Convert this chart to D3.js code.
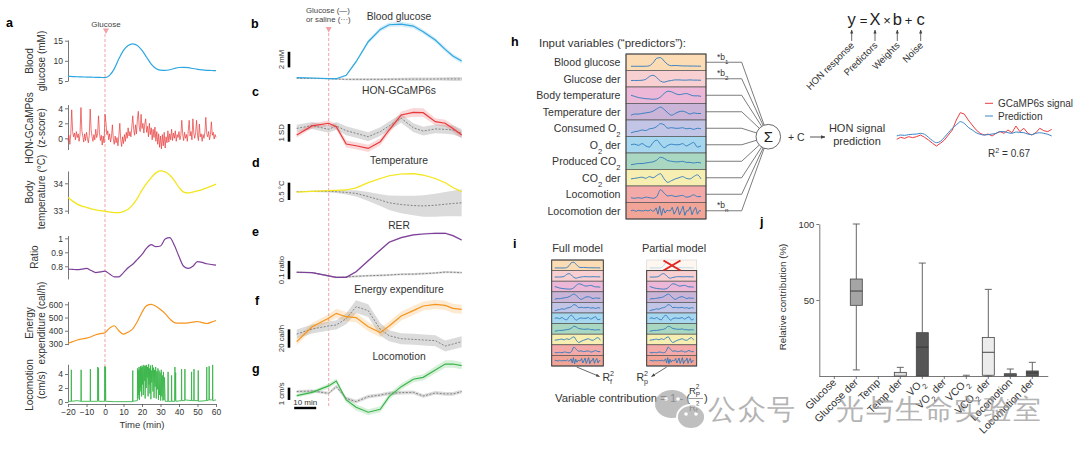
<!DOCTYPE html>
<html><head><meta charset="utf-8">
<script src="https://cdn.jsdelivr.net/npm/d3@7"></script>
<style>
body{margin:0;background:#fff}
svg{display:block}
text{font-family:"Liberation Sans",Arial,Helvetica,sans-serif}
</style></head>
<body><svg id="c" width="1080" height="451"></svg>
<script>
// ================= DATA =================
// Panel a (time course, min)
const tickTimesA = [-20,-10,0,10,20,30,40,50,60];
const tA = [-20,-17.5,-15,-12.5,-10,-7.5,-5,-2.5,0,2.5,5,7.5,10,12.5,15,17.5,20,22.5,25,27.5,30,32.5,35,37.5,40,42.5,45,47.5,50,52.5,55,57.5,60];
const glucoseA = [6.15,6.1,6.05,6.0,5.98,5.95,5.92,5.88,5.85,6.4,8.0,10.5,12.6,13.8,14.2,13.8,12.6,10.9,9.2,8.1,7.7,7.65,7.8,8.1,8.35,8.4,8.3,8.1,7.9,7.75,7.65,7.6,7.55];
const tempA = [33.48,33.35,33.24,33.17,33.12,33.07,33.03,33.0,32.98,32.95,32.93,32.93,32.97,33.05,33.22,33.45,33.75,34.0,34.2,34.38,34.45,34.42,34.3,34.1,33.85,33.68,33.65,33.68,33.72,33.77,33.83,33.9,33.97];
const ratioA = [0.78,0.778,0.776,0.78,0.785,0.77,0.755,0.76,0.765,0.745,0.725,0.725,0.755,0.79,0.815,0.85,0.885,0.93,0.955,0.94,0.945,0.995,1.005,0.95,0.87,0.8,0.785,0.8,0.833,0.828,0.818,0.813,0.808];
const energyA = [305,318,330,338,345,355,370,378,385,420,438,400,375,390,415,470,540,590,600,585,560,530,490,462,458,458,460,465,470,462,455,465,478];
// HON-GCaMP6s z-score, sampled every 0.5 min from -20 to 60
const gcampA = [-0.3,0.4,-0.8,0.6,3.8,0.9,0.2,0.7,-0.2,0.9,
0.1,0.6,-0.4,0.5,4.1,1.0,0.3,-0.5,0.6,-0.3,
0.8,0.0,-0.6,0.4,3.9,1.1,0.2,-0.4,0.5,-0.2,
1.2,0.1,0.6,3.0,0.8,-0.3,0.4,-0.9,0.3,-0.6,
3.2,2.1,0.5,1.0,-0.2,0.6,-0.5,0.2,1.8,-0.1,
-0.8,0.3,-0.6,0.1,-1.0,0.4,2.0,-0.2,-1.1,0.2,
-0.7,0.5,-0.4,0.8,0.0,1.4,0.3,0.9,0.2,1.5,
3.0,1.2,0.4,1.8,0.6,2.5,3.6,1.5,0.9,3.2,
1.3,2.0,0.7,1.9,2.6,0.8,1.6,0.2,2.0,0.5,
1.4,-0.2,1.2,0.1,1.5,-0.4,0.9,-0.8,0.6,-1.2,
0.3,-1.4,0.5,-1.0,0.8,-1.3,0.2,-0.6,1.0,-0.5,
0.6,-0.2,1.2,-0.3,0.7,0.0,1.0,-0.4,0.5,0.1,
0.9,-0.2,0.4,2.4,0.6,-0.3,0.8,0.0,0.5,-0.4,
1.0,2.4,0.3,0.9,-0.2,2.6,0.7,0.0,0.8,2.4,
0.4,-0.3,1.9,0.2,0.6,-0.4,0.5,0.0,0.8,2.8,
0.6,0.2,0.9,-0.2,0.5,2.2,0.4,0.8,-0.1,0.5,
0.1];
// Locomotion (cm/s) trace vertices
const locoT = [-20,-18.3,-18.2,-18.1, -15,-13,-12.9,-12.8, -8,-7.9,-7.8, -4,-3.9,-3.7,-3.5,-3.4, -0.2,-0.1,0.1,0.3,0.4, 5,14.9,15,15.1,
17.5,17.6,17.8,18,18.2,18.4,18.6,18.8,19,19.2,19.4,19.6,19.8,
20,20.3,20.5,20.7,21,21.2,21.5,21.7,22,22.3,22.5,22.8,
23,23.3,23.6,23.8,24,24.3,24.6,24.8,
25,25.3,25.6,25.9,26.2,26.5,26.8,27.1,27.4,27.7,
28,28.3,28.6,28.9,29.2,29.5,29.8,
30.1,30.4,30.7,31,31.3,31.6,31.9,32.2,32.5,
34,34.1,34.2,35.9,36,36.1,37.7,37.8,37.9,38.2,38.3,
41.3,41.4,41.5,43.1,43.2,43.3, 46.7,46.8,46.9,48,48.1,48.2,
50.3,50.4,50.5,54.9,55,55.1, 56.2,56.3,56.4,58.1,58.2,58.3,60];
const locoV = [0.1,0.1,4.6,0.1, 0.2,0.1,4.6,0.1, 0.1,4.7,0.1, 0.1,5.0,0.2,4.8,0.1, 0.1,5.1,0.3,5.0,0.1, 0.05,0.05,4.5,0.1,
0.2,4.8,0.5,4.5,1.0,5.0,0.3,4.6,2.0,5.1,1.5,4.9,0.8,
5.2,2.5,5.0,1.0,5.3,3.0,5.1,0.5,5.2,2.0,5.3,3.5,
5.0,0.8,5.4,2.5,4.8,1.2,5.2,0.4,
4.5,2.8,5.3,1.5,4.9,0.6,4.6,2.2,5.0,0.5,
4.4,1.8,4.8,0.3,4.5,1.0,4.2,
0.2,4.6,0.8,3.8,0.2,4.3,0.3,3.5,0.1,
0.1,4.3,0.1,0.1,3.8,0.1,0.1,5.0,0.2,4.2,0.1,
0.2,4.7,0.2,0.2,4.7,0.3, 0.2,4.3,0.2,0.2,4.7,0.2,
0.2,4.5,0.1,0.2,5.0,0.2, 0.3,5.1,0.3,0.3,5.3,0.2,0.3];

// Panels b-g (glucose vs saline, mean +/- s.e.m., min)
const tB = [-15,-8,-0.5,3,7.5,12,17.5,23,27,32.5,38,42.5,48,52.5,56,60];
const glcB   = [0.13,0.09,0,0,0.43,2.18,4.74,6.32,6.92,7.0,6.75,6.02,4.96,3.76,2.91,2.26];
const glcBse = [0.05,0.05,0.05,0.08,0.12,0.2,0.25,0.3,0.3,0.3,0.3,0.3,0.3,0.3,0.3,0.3];
const salB   = [0.05,0.03,0,-0.05,-0.08,-0.08,-0.08,-0.08,-0.07,-0.06,-0.05,-0.05,-0.04,-0.03,-0.03,-0.03];
const salBse = [0.05,0.05,0.08,0.1,0.12,0.15,0.15,0.15,0.15,0.18,0.2,0.2,0.2,0.22,0.25,0.25];
const hc     = [-0.28,0.23,0.38,0.19,-0.79,-0.89,-1.04,-0.66,0,0.85,1.0,0.98,0.47,0.38,0.09,-0.28];
const hcse   = [0.15,0.15,0.15,0.15,0.2,0.2,0.2,0.2,0.2,0.2,0.25,0.25,0.2,0.2,0.2,0.2];
const hcSal  = [0.09,0.25,0.04,0.23,-0.04,-0.19,-0.38,-0.09,0.23,0.66,0.13,-0.06,0.06,0.04,0,-0.19];
const hcSalse= [0.2,0.2,0.2,0.22,0.25,0.25,0.25,0.25,0.25,0.25,0.25,0.25,0.25,0.25,0.25,0.25];
const tmp    = [-0.01,0.01,0.03,0.04,0.05,0.11,0.26,0.38,0.46,0.51,0.52,0.48,0.38,0.26,0.12,0];
const tmpse  = [0.01,0.01,0.01,0.01,0.015,0.015,0.02,0.02,0.02,0.02,0.02,0.02,0.02,0.02,0.02,0.02];
const tmpSal = [0,0.01,0.01,0,-0.02,-0.05,-0.14,-0.24,-0.32,-0.37,-0.4,-0.41,-0.39,-0.36,-0.34,-0.32];
const tmpSalse=[0.01,0.02,0.03,0.04,0.06,0.09,0.13,0.17,0.21,0.25,0.28,0.31,0.33,0.35,0.37,0.39];
const rer    = [0.015,0.013,-0.005,-0.013,-0.013,0.018,0.078,0.137,0.179,0.204,0.219,0.224,0.228,0.228,0.215,0.191];
const rerse  = [0.004,0.004,0.004,0.004,0.004,0.005,0.005,0.005,0.005,0.005,0.005,0.005,0.005,0.005,0.005,0.005];
const rerSal = [0.015,0.013,-0.005,-0.013,-0.011,-0.007,-0.004,-0.002,0,0.004,0.005,0.007,0.011,0.016,0.015,0.013];
const rerSalse=[0.004,0.004,0.005,0.005,0.005,0.006,0.006,0.006,0.006,0.006,0.006,0.006,0.006,0.006,0.006,0.006];
const ee     = [-12.7,3.6,12.7,18.2,14.5,13.5,3.6,-2.9,4.4,15.3,21.1,26.2,28,26.9,23.6,22.5];
const eese   = [4,4,4.5,5,5,5,5,5,5,5,5,5,5,5,5,5];
const eeSal  = [-4.4,1.1,4.4,5.5,12.4,25.5,21.1,0.7,-6.2,-9.5,-10.2,-10.9,-11.6,-17.5,-15.3,-12.7];
const eeSalse= [5,5,5,5,6,7,7,7,6,6,6,6,6,6,6,6];
const loc    = [-0.19,0.08,0.6,1.0,-0.54,-1.14,-1.54,-1.3,-0.27,0.54,1.14,1.3,1.9,2.38,2.38,2.25];
const locse  = [0.15,0.15,0.2,0.2,0.2,0.25,0.25,0.25,0.25,0.25,0.25,0.25,0.3,0.3,0.3,0.3];
const locSal = [0.14,0.19,0,0.54,-0.41,-0.68,-0.27,-0.14,0,0.05,0.08,-0.22,0.03,-0.05,-0.05,0.14];
const locSalse=[0.12,0.12,0.12,0.15,0.15,0.15,0.15,0.15,0.15,0.15,0.15,0.15,0.15,0.15,0.15,0.15];

// Panel h predictors
const rowLabels = ["Blood glucose","Glucose der","Body temperature","Temperature der","Consumed O_2","O_2 der","Produced CO_2","CO_2 der","Locomotion","Locomotion der"];
const miniTraces = [
 [0.15,0.15,0.15,0.15,0.15,0.2,0.45,0.85,0.9,0.6,0.3,0.2,0.22,0.2,0.18,0.18,0.17,0.17,0.16,0.16],
 [0.35,0.35,0.35,0.37,0.45,0.7,0.8,0.6,0.3,0.2,0.3,0.35,0.4,0.4,0.38,0.38,0.4,0.38,0.38,0.37],
 [0.5,0.4,0.3,0.25,0.2,0.18,0.15,0.18,0.35,0.65,0.85,0.8,0.65,0.55,0.6,0.65,0.55,0.45,0.45,0.4],
 [0.2,0.3,0.3,0.35,0.4,0.45,0.55,0.75,0.9,0.7,0.4,0.2,0.35,0.5,0.55,0.45,0.3,0.4,0.35,0.35],
 [0.1,0.2,0.25,0.35,0.3,0.45,0.5,0.65,0.9,0.8,0.5,0.55,0.5,0.5,0.55,0.45,0.5,0.4,0.5,0.45],
 [0.5,0.55,0.45,0.6,0.4,0.3,0.7,0.9,0.55,0.25,0.45,0.55,0.5,0.5,0.6,0.4,0.55,0.7,0.3,0.4],
 [0.2,0.25,0.3,0.3,0.35,0.4,0.45,0.6,0.85,0.75,0.55,0.5,0.45,0.45,0.5,0.4,0.4,0.35,0.4,0.35],
 [0.4,0.45,0.5,0.55,0.45,0.6,0.5,0.7,0.85,0.4,0.1,0.25,0.4,0.5,0.6,0.45,0.4,0.6,0.75,0.4],
 [0.2,0.15,0.2,0.15,0.25,0.2,0.15,0.3,0.9,0.6,0.35,0.4,0.3,0.35,0.4,0.25,0.3,0.45,0.3,0.3],
 [0.5,0.55,0.5,0.45,0.55,0.5,0.5,0.48,0.55,0.5,0.5,0.6,0.45,0.5,0.75,0.2,0.9,0.1,0.7,0.3,0.55,0.5,0.5,0.8,0.2,0.5,0.85,0.15,0.5,0.9,0.1,0.5,0.5,0.85,0.15,0.55,0.8,0.2,0.5,0.5]
];
const weightLabels = ["*b_1","*b_2","*b_n"];
const eqParts = ["y","=","X","×","b","+","c"];
const eqTerms = ["HON response","Predictors","Weights","Noise"];
// HON signal prediction
const gcampSig = [-0.36,-0.19,-0.28,-0.14,-0.22,-0.14,0,-0.19,-0.42,-0.69,-0.92,-0.69,-0.42,0,0.42,1.25,1.86,1.75,1.25,0.83,0.42,0.14,0,0.08,-0.08,0.14,0.28,0.14,0.42,0.19,0.75,0.28,0.56,0.14,0,0.19,0.56,0.36,0.28,0.47];
const predSig  = [-0.08,0,-0.03,0.03,0.06,0.08,0.14,0.06,-0.19,-0.47,-0.64,-0.53,-0.19,0.19,0.56,0.83,1.11,0.97,0.64,0.42,0.19,0.06,0,0.03,0.08,0.14,0.28,0.28,0.19,0.14,0.25,0.22,0.19,0.08,0.03,0.14,0.19,0.14,0.06,-0.08];
const r2Text = "R^2 = 0.67";

// Panel j: relative contribution (%)
const jCats = ["Glucose","Glucose der","Temp","Temp der","VO_2","VO_2 der","VCO_2","VCO_2 der","Locomotion","Locomotion der"];
const jMin = [0,4,0,0,0,0,0,0,0,0];
const jQ1  = [0,46.5,0,0,0,0,0,0.5,0,0];
const jMed = [0,55.9,0,0,19,0,0,15.6,0,2];
const jQ3  = [0,63.8,0,2.4,28.5,0,0,25.4,1.5,3.3];
const jMax = [0,100,0,5.7,74.3,0,0.5,57,4.6,9];
const jTicks = [50,100];

// ================= DRAW =================
const svg = d3.select('#c');
const FONT = '"Liberation Sans", Arial, Helvetica, sans-serif';
const TXT = '#333';
const defs = svg.append('defs');
defs.append('marker').attr('id','ah').attr('viewBox','0 0 10 10').attr('refX',9).attr('refY',5)
  .attr('markerWidth',5).attr('markerHeight',5).attr('orient','auto-start-reverse')
  .append('path').attr('d','M0,1L10,5L0,9z').attr('fill','#444');

function rich(sel, str, fs){
  const parts = str.split(/([_^][A-Za-z0-9])/);
  parts.forEach(p=>{
    if(!p) return;
    if(p[0]==='_') sel.append('tspan').attr('baseline-shift','sub').attr('font-size',fs*0.72).text(p.slice(1));
    else if(p[0]==='^') sel.append('tspan').attr('baseline-shift','super').attr('font-size',fs*0.72).text(p.slice(1));
    else sel.append('tspan').text(p);
  });
  return sel;
}
function label(x,y,t,opt={}){
  const s = svg.append('text').attr('x',x).attr('y',y).attr('font-size',opt.fs||10)
    .attr('fill',opt.fill||TXT).attr('text-anchor',opt.anchor||'start');
  if(opt.bold) s.attr('font-weight','bold');
  rich(s,t,opt.fs||10);
  return s;
}
function vlabel(x,y,t,fs){
  svg.append('text').attr('transform',`translate(${x},${y}) rotate(-90)`).attr('dy','0.35em')
    .attr('text-anchor','middle').attr('font-size',fs).attr('fill',TXT).text(t);
}
function tri(x,y){
  svg.append('path').attr('d',`M${x-3},${y}L${x+3},${y}L${x},${y+5.5}Z`).attr('fill','#f2a0a4');
}

// ---------- Panel a ----------
label(6,27,'a',{fs:12.5,bold:true,fill:'#000'});
const xa = d3.scaleLinear().domain([-20,60]).range([68,216]);
label(xa(0)+1,26.5,'Glucose',{fs:8,anchor:'middle',fill:'#444'});
tri(xa(0)+1,28.5);
svg.append('line').attr('x1',xa(0)).attr('x2',xa(0)).attr('y1',34).attr('y2',404)
  .attr('stroke','#f08a8a').attr('stroke-width',0.8).attr('stroke-dasharray','3,2');

function aAxis(domain, range, extent, ticks, fmt){
  const y = d3.scaleLinear().domain(domain).range(range);
  const ya = y.copy().domain(extent).range(extent.map(y));
  const g = svg.append('g').attr('transform','translate(68,0)')
    .call(d3.axisLeft(ya).tickValues(ticks).tickSize(3).tickSizeOuter(0).tickPadding(2).tickFormat(fmt||d3.format('~g')));
  g.attr('font-family',FONT).attr('font-size',8.5);
  g.selectAll('text').attr('fill',TXT);
  g.selectAll('path,line').attr('stroke','#555').attr('stroke-width',0.8);
  return y;
}
const yGlu = aAxis([5,15],[81,40.7],[5,15.2],[5,10,15]);
const yHon = aAxis([0,4],[138.3,108.3],[-1.5,4.5],[0,2,4]);
const yTmp = aAxis([33,34],[210.7,183.3],[32.9,34.45],[33,34]);
const yRat = aAxis([0.8,1],[266.3,238.3],[0.71,1.02],[0.8,0.9,1]);
const yEne = aAxis([300,600],[344,304.3],[295,622],[300,400,500,600]);
const yLoc = aAxis([0,4],[402,374],[0,5.4],[0,2,4]);
// x axis
const gx = svg.append('g').attr('transform','translate(0,404)')
  .call(d3.axisBottom(xa).tickValues(tickTimesA).tickSize(3).tickSizeOuter(0).tickPadding(2).tickFormat(d=>d<0?'−'+(-d):d));
gx.attr('font-family',FONT).attr('font-size',8.5);
gx.selectAll('text').attr('fill',TXT);
gx.selectAll('path,line').attr('stroke','#555').attr('stroke-width',0.8);
label(142,428,'Time (min)',{fs:9.5,anchor:'middle'});

const smooth = (ys,ysc)=>d3.line().x((d,i)=>xa(tA[i])).y(d=>ysc(d)).curve(d3.curveMonotoneX)(ys);
svg.append('path').attr('d',smooth(glucoseA,yGlu)).attr('fill','none').attr('stroke','#2ea7e0').attr('stroke-width',1.2);
svg.append('path').attr('d',d3.line().x((d,i)=>xa(-20+0.5*i)).y(d=>yHon(d))(gcampA)).attr('fill','none').attr('stroke','#e8393a').attr('stroke-width',0.7);
svg.append('path').attr('d',smooth(tempA,yTmp)).attr('fill','none').attr('stroke','#f3e61c').attr('stroke-width',1.3);
svg.append('path').attr('d',smooth(ratioA,yRat)).attr('fill','none').attr('stroke','#7d3f98').attr('stroke-width',1.2);
svg.append('path').attr('d',smooth(energyA,yEne)).attr('fill','none').attr('stroke','#f7941d').attr('stroke-width',1.2);
svg.append('path').attr('d',d3.line().x((d,i)=>xa(locoT[i])).y(d=>yLoc(d))(locoV)).attr('fill','none').attr('stroke','#3ab54a').attr('stroke-width',0.9);

const aLabels = [
  [['Blood','glucose (mM)'],61],
  [['HON-GCaMP6s','(z-score)'],128],
  [['Body','temperature (°C)'],192],
  [['Ratio'],257],
  [['Energy','expenditure (cal/h)'],323],
  [['Locomotion','(cm/s)'],385]
];
aLabels.forEach(([lines,cy])=>{
  if(lines.length===1) vlabel(34,cy,lines[0],10);
  else { vlabel(29.5,cy,lines[0],10); vlabel(41.5,cy,lines[1],10); }
});

// ---------- Panels b-g ----------
const xb = d3.scaleLinear().domain([-15,60]).range([296.7,461.7]);
label(251,28,'b',{fs:12.5,bold:true,fill:'#000'});
label(306,12.5,'Glucose (—)',{fs:7.8,fill:'#444'});
label(306,21.5,'or saline (···)',{fs:7.8,fill:'#444'});
tri(xb(0)-1,27);
svg.append('line').attr('x1',xb(0)-1).attr('x2',xb(0)-1).attr('y1',33).attr('y2',406)
  .attr('stroke','#f08a8a').attr('stroke-width',0.8).attr('stroke-dasharray','3,2');

const bgPanels = [
  {letter:'b',ly:28,title:'Blood glucose',ty:20,y0:78.7,ppu:7.8,main:glcB,mse:glcBse,sal:salB,sse:salBse,color:'#2ea7e0',bar:2,barFrom:1.45,barLab:'2 mM'},
  {letter:'c',ly:96,title:'HON-GCaMP6s',ty:93.5,y0:130,ppu:17.7,main:hc,mse:hcse,sal:hcSal,sse:hcSalse,color:'#e8393a',bar:1,barFrom:-0.66,barLab:'1 SD'},
  {letter:'d',ly:167,title:'Temperature',ty:163.5,y0:191.7,ppu:34.7,main:tmp,mse:tmpse,sal:tmpSal,sse:tmpSalse,color:'#f3e61c',bar:0.5,barFrom:-0.24,barLab:'0.5 °C'},
  {letter:'e',ly:236,title:'RER',ty:228.5,y0:275,ppu:183,main:rer,mse:rerse,sal:rerSal,sse:rerSalse,color:'#7d3f98',bar:0.1,barFrom:-0.023,barLab:'0.1 ratio'},
  {letter:'f',ly:305,title:'Energy expenditure',ty:292.5,y0:330,ppu:0.917,main:ee,mse:eese,sal:eeSal,sse:eeSalse,color:'#f7941d',bar:20,barFrom:-19.3,barLab:'20 cal/h'},
  {letter:'g',ly:373,title:'Locomotion',ty:360,y0:393.3,ppu:12.3,main:loc,mse:locse,sal:locSal,sse:locSalse,color:'#3ab54a',bar:1,barFrom:-0.54,barLab:'1 cm/s'}
];
bgPanels.forEach(p=>{
  const y = d3.scaleLinear().domain([0,1]).range([p.y0,p.y0-p.ppu]);
  const area=(v,s)=>d3.area().x((d,i)=>xb(tB[i])).y0((d,i)=>y(v[i]-s[i])).y1((d,i)=>y(v[i]+s[i]))(v);
  const line=v=>d3.line().x((d,i)=>xb(tB[i])).y(d=>y(d))(v);
  svg.append('path').attr('d',area(p.sal,p.sse)).attr('fill','#d2d2d2').attr('opacity',0.8);
  svg.append('path').attr('d',area(p.main,p.mse)).attr('fill',p.color).attr('opacity',0.2);
  svg.append('path').attr('d',line(p.sal)).attr('fill','none').attr('stroke','#7a7a7a').attr('stroke-width',0.9).attr('stroke-dasharray','2,1.5');
  svg.append('path').attr('d',line(p.main)).attr('fill','none').attr('stroke',p.color).attr('stroke-width',1.2);
  if(p.letter!=='b') label(p.letter==='f'?255:252,p.ly,p.letter,{fs:12.5,bold:true,fill:'#000'});
  label(399,p.ty,p.title,{fs:10.3,anchor:'middle'});
  svg.append('line').attr('x1',289).attr('x2',289).attr('y1',y(p.barFrom)).attr('y2',y(p.barFrom+p.bar))
    .attr('stroke','#000').attr('stroke-width',2.6);
  vlabel(281.5,(y(p.barFrom)+y(p.barFrom+p.bar))/2,p.barLab,7.8);
});
// 10 min scale bar
svg.append('line').attr('x1',xb(-15)-2.5).attr('x2',xb(-5)-2.5).attr('y1',408).attr('y2',408).attr('stroke','#000').attr('stroke-width',2.4);
label(xb(-10)-2.5,405,'10 min',{fs:8,anchor:'middle'});

// ---------- Panel h ----------
label(511,46,'h',{fs:12.5,bold:true,fill:'#000'});
label(539,47,'Input variables (“predictors”):',{fs:11.5});
const rowColors = ["#fcdcb5","#f9d0d1","#edb8d7","#cab5d8","#c3c5e7","#a6d7ef","#a9d7c1","#f7efb2","#f4aaa9","#f2a497"];

function drawStack(x0,x1,y0,rowH,padX,padY,fadeFirst){
  rowLabels.forEach((lab,i)=>{
    const ry = y0+i*rowH;
    const faded = fadeFirst && i===0;
    svg.append('rect').attr('x',x0).attr('y',ry).attr('width',x1-x0).attr('height',rowH)
      .attr('fill',faded?'#fdf7f0':rowColors[i]).attr('stroke',faded?'#d8d8d8':'#555').attr('stroke-width',0.7);
    const tr = miniTraces[i];
    const sx = d3.scaleLinear().domain([0,tr.length-1]).range([x0+padX,x1-padX]);
    const sy = d3.scaleLinear().domain([0,1]).range([ry+rowH-padY,ry+padY]);
    svg.append('path').attr('d',d3.line().x((d,j)=>sx(j)).y(d=>sy(d)).curve(i===9?d3.curveLinear:d3.curveMonotoneX)(tr))
      .attr('fill','none').attr('stroke',faded?'#bcd4ea':'#2b78bd').attr('stroke-width',0.9);
  });
  svg.append('rect').attr('x',x0).attr('y',y0+(fadeFirst?rowH:0)).attr('width',x1-x0).attr('height',rowH*(fadeFirst?9:10))
    .attr('fill','none').attr('stroke','#444').attr('stroke-width',0.9);
}
const hx0=626,hx1=706,hy0=54,hRow=16.5;
drawStack(hx0,hx1,hy0,hRow,5,2.5,false);
rowLabels.forEach((lab,i)=>label(620.5,hy0+hRow*(i+0.5)+3.8,lab,{fs:10.6,anchor:'end'}));
// connectors to sum
const sc={x:768.3,y:136.7,r:12.3};
rowLabels.forEach((lab,i)=>{
  const cy=hy0+hRow*(i+0.5), jx=741.7;
  const dx=jx-sc.x, dy=cy-sc.y, L=Math.hypot(dx,dy);
  svg.append('path').attr('d',`M${hx1},${cy}L${jx},${cy}L${sc.x+dx/L*sc.r},${sc.y+dy/L*sc.r}`)
    .attr('fill','none').attr('stroke','#444').attr('stroke-width',0.7);
});
svg.append('circle').attr('cx',sc.x).attr('cy',sc.y).attr('r',sc.r).attr('fill','#fff').attr('stroke','#444').attr('stroke-width',0.8);
label(sc.x,sc.y+5.5,'Σ',{fs:15,anchor:'middle',fill:'#222'});
[[0,59.5],[1,75.5],[9,207.5]].forEach(([k,yy],n)=>label(717,yy,weightLabels[n],{fs:8.5}));
label(788,140.5,'+ C',{fs:10.5});
svg.append('line').attr('x1',810).attr('x2',825).attr('y1',137).attr('y2',137).attr('stroke','#444').attr('stroke-width',0.9).attr('marker-end','url(#ah)');
label(857,131.5,'HON signal',{fs:11,anchor:'middle'});
label(857,145,'prediction',{fs:11,anchor:'middle'});
// equation
const eqX=[851.7,863.5,875,887,897.3,908.5,920.7];
eqParts.forEach((p,i)=>label(eqX[i],25,p,{fs:i%2===0?16.5:13,anchor:'middle',fill:'#222'}));
[0,2,4,6].forEach((k,n)=>{
  svg.append('line').attr('x1',eqX[k]).attr('x2',eqX[k]).attr('y1',41).attr('y2',30)
    .attr('stroke','#444').attr('stroke-width',0.8).attr('marker-end','url(#ah)');
  svg.append('text').attr('transform',`translate(${eqX[k]+3},${46}) rotate(-45)`).attr('text-anchor','end')
    .attr('font-size',9.5).attr('fill',TXT).text(eqTerms[n]);
});
// prediction traces
const px = d3.scaleLinear().domain([0,gcampSig.length-1]).range([896.7,1051.7]);
const py = d3.scaleLinear().domain([0,1]).range([135,123]);
svg.append('path').attr('d',d3.line().x((d,i)=>px(i)).y(d=>py(d))(gcampSig)).attr('fill','none').attr('stroke','#ee3b3f').attr('stroke-width',1);
svg.append('path').attr('d',d3.line().x((d,i)=>px(i)).y(d=>py(d)).curve(d3.curveMonotoneX)(predSig)).attr('fill','none').attr('stroke','#3a86c8').attr('stroke-width',1);
svg.append('line').attr('x1',985).attr('x2',993).attr('y1',103.3).attr('y2',103.3).attr('stroke','#ee3b3f').attr('stroke-width',1);
label(998,107,'GCaMP6s signal',{fs:10});
svg.append('line').attr('x1',985).attr('x2',993).attr('y1',116).attr('y2',116).attr('stroke','#3a86c8').attr('stroke-width',1);
label(998,119.5,'Prediction',{fs:10});
label(988,157,r2Text,{fs:10});

// ---------- Panel i ----------
label(513,248,'i',{fs:12.5,bold:true,fill:'#000'});
label(577.5,252,'Full model',{fs:11,anchor:'middle'});
label(674,252,'Partial model',{fs:11,anchor:'middle'});
drawStack(551.7,603.3,260,10.6,3,1.5,false);
drawStack(646.7,696.7,260,10.6,3,1.5,true);
svg.append('path').attr('d','M663.5,260.5L680.5,270.5M663.5,270.5L680.5,260.5').attr('stroke','#e42320').attr('stroke-width',2).attr('fill','none');
svg.append('line').attr('x1',576.7).attr('y1',367).attr('x2',599.5).attr('y2',376.5).attr('stroke','#444').attr('stroke-width',0.8).attr('marker-end','url(#ah)');
svg.append('line').attr('x1',666.7).attr('y1',367).attr('x2',651.5).attr('y2',376.5).attr('stroke','#444').attr('stroke-width',0.8).attr('marker-end','url(#ah)');
function r2(x,y,sub,fs){
  label(x,y,'R',{fs:fs});
  label(x+fs*0.72,y-fs*0.48,'2',{fs:fs*0.68});
  label(x+fs*0.72,y+fs*0.28,sub,{fs:fs*0.68});
}
r2(602.5,381,'f',10.5);
r2(636.5,381,'p',10.5);
label(555,402,'Variable contribution = 1 - (',{fs:11.3});
r2(689,394,'P',9.5);
svg.append('line').attr('x1',688.5).attr('x2',703).attr('y1',398.5).attr('y2',398.5).attr('stroke','#555').attr('stroke-width',0.6);
r2(689,410.5,'f',9.5);
label(704,402,')',{fs:11});

// ---------- Panel j ----------
label(760,226,'j',{fs:12.5,bold:true,fill:'#000'});
const jy = d3.scaleLinear().domain([0,100]).range([376,224]);
const jx = d3.scaleBand().domain(jCats).range([823.3,1043.3]);
const gy = svg.append('g').attr('transform','translate(819.3,0)')
  .call(d3.axisLeft(jy).tickValues(jTicks).tickSize(3).tickSizeOuter(0).tickPadding(2));
gy.attr('font-family',FONT).attr('font-size',9.5);
gy.selectAll('text').attr('fill',TXT);
gy.selectAll('path,line').attr('stroke','#555').attr('stroke-width',0.8);
const gxj = svg.append('g').attr('transform','translate(0,376)')
  .call(d3.axisBottom(jx).tickSize(3).tickSizeOuter(0).tickFormat(''));
gxj.select('.domain').attr('d','M819.3,0.5H1048.3');
gxj.selectAll('path,line').attr('stroke','#555').attr('stroke-width',0.8);
jCats.forEach(c=>{
  const t = svg.append('text').attr('transform',`translate(${jx(c)+jx.bandwidth()/2+2.5},${383}) rotate(-45)`)
    .attr('text-anchor','end').attr('font-size',10.5).attr('fill',TXT);
  rich(t,c,10.5);
});
vlabel(783,297,'Relative contribution (%)',9.8);
const boxFill = ['#9a9a9a','#a5a5a5','#9a9a9a','#dedede','#565656','#565656','#e2e2e2','#ececec','#5a5a5a','#5a5a5a'];
jCats.forEach((c,i)=>{
  const cx = jx(c)+jx.bandwidth()/2, w=12;
  if(jMax[i]>jQ3[i]){
    svg.append('line').attr('x1',cx).attr('x2',cx).attr('y1',jy(jQ3[i])).attr('y2',jy(jMax[i])).attr('stroke','#555').attr('stroke-width',0.9);
    svg.append('line').attr('x1',cx-3.5).attr('x2',cx+3.5).attr('y1',jy(jMax[i])).attr('y2',jy(jMax[i])).attr('stroke','#555').attr('stroke-width',0.9);
  }
  if(jQ1[i]>jMin[i]){
    svg.append('line').attr('x1',cx).attr('x2',cx).attr('y1',jy(jQ1[i])).attr('y2',jy(jMin[i])).attr('stroke','#555').attr('stroke-width',0.9);
    svg.append('line').attr('x1',cx-3.5).attr('x2',cx+3.5).attr('y1',jy(jMin[i])).attr('y2',jy(jMin[i])).attr('stroke','#555').attr('stroke-width',0.9);
  }
  if(jQ3[i]>jQ1[i]){
    svg.append('rect').attr('x',cx-w/2).attr('y',jy(jQ3[i])).attr('width',w).attr('height',jy(jQ1[i])-jy(jQ3[i]))
      .attr('fill',boxFill[i]).attr('stroke','#444').attr('stroke-width',0.8);
    if(jMed[i]>jQ1[i]) svg.append('line').attr('x1',cx-w/2).attr('x2',cx+w/2).attr('y1',jy(jMed[i])).attr('y2',jy(jMed[i])).attr('stroke','#333').attr('stroke-width',0.9);
  }
});

// ---------- watermark ----------
const wm = svg.append('g').attr('opacity',0.75);
wm.append('ellipse').attr('cx',672).attr('cy',404).attr('rx',17).attr('ry',14).attr('fill','#aaaaaa');
wm.append('ellipse').attr('cx',691).attr('cy',417).attr('rx',14).attr('ry',12).attr('fill','#aaaaaa').attr('stroke','#fff').attr('stroke-width',1.8);
[[666,399],[678,399],[686,414],[696,414]].forEach(([x,y])=>wm.append('circle').attr('cx',x).attr('cy',y).attr('r',1.8).attr('fill','#fff'));
wm.append('text').attr('x',708).attr('y',419).attr('font-size',28).attr('letter-spacing',1.5)
  .attr('font-family','"Noto Sans CJK SC",sans-serif').attr('fill','#9b9b9b').text('公众号');
wm.append('text').attr('x',836).attr('y',419).attr('font-size',28).attr('letter-spacing',1.5)
  .attr('font-family','"Noto Sans CJK SC",sans-serif').attr('fill','#9b9b9b').text('光与生命实验室');
</script></body></html>
